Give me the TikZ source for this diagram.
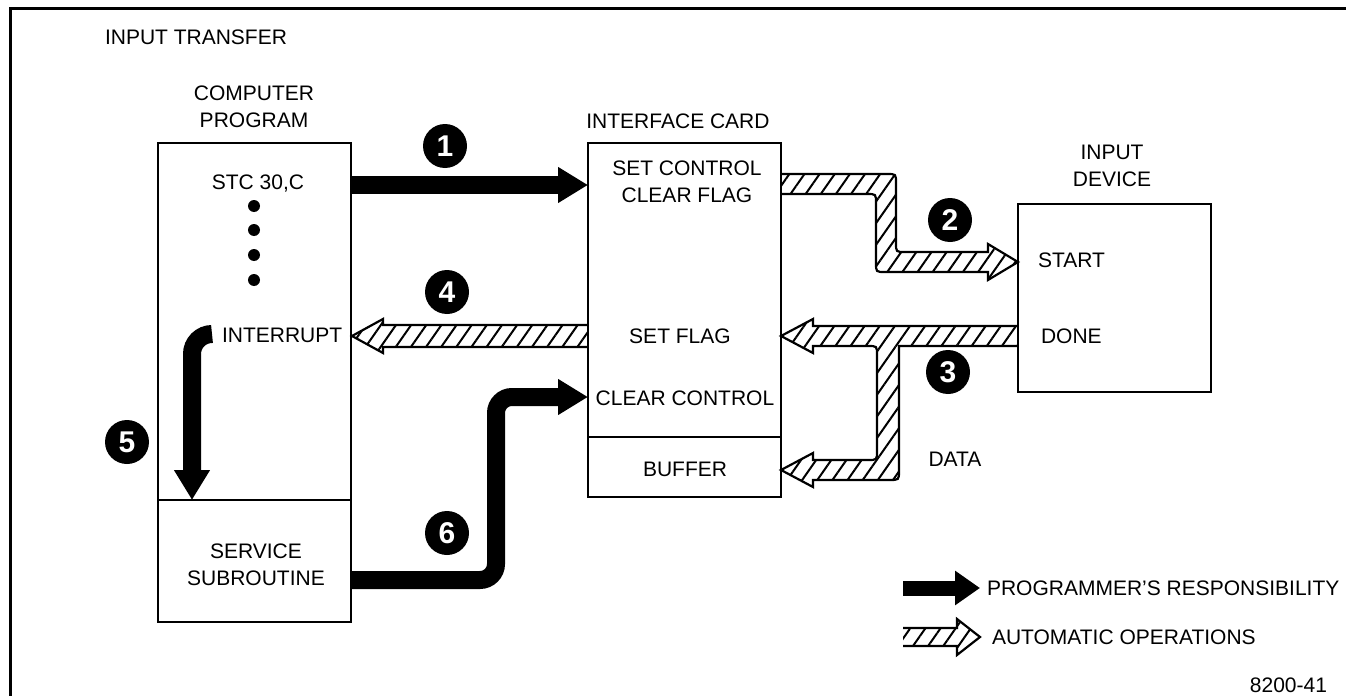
\documentclass[tikz,border=0pt]{standalone}
\usepackage{fontspec}
\setmainfont{Liberation Sans}
\usetikzlibrary{arrows.meta,patterns.meta}
\newcommand{\hatcharrow}[1]{%
  \fill[pattern={Lines[angle=55,distance=6.2pt,line width=1pt]}] #1 -- cycle;
  \draw[line width=1.1pt, line join=miter] #1;}
\begin{document}
\begin{tikzpicture}[x=0.5pt,y=-0.5pt,
  every node/.style={font=\fontsize{10.5}{12.6}\selectfont, inner sep=0pt, outer sep=0pt},
  box/.style={draw, line width=1.1pt, minimum width=96.5pt},
  lbl/.style={align=center},
  num/.style={circle, fill=black, minimum size=22pt, text=white, font=\fontsize{15}{16}\bfseries},
  blk/.style={line width=9pt, rounded corners=8pt, -{Triangle[length=15pt,width=17pt]}},
  dot/.style={circle, fill=black, minimum size=6pt}
]
\useasboundingbox (0,0) rectangle (1346,696);
\fill[white] (0,0) rectangle (1346,696);
\draw[line width=1.5pt] (10,696) -- (10,8) -- (1346,8);

% hatched arrows (automatic operations)
\hatcharrow{(781,174) -- (887,174) .. controls (896,174) .. (896,183) -- (896,243) .. controls (896,252) .. (905,252) -- (988,252) -- (988,244) -- (1018,262) -- (988,280) -- (988,272) -- (885,272) .. controls (876,272) .. (876,263) -- (876,203) .. controls (876,194) .. (867,194) -- (781,194)}
\hatcharrow{(588,325) -- (383,325) -- (383,319) -- (352,336) -- (383,353) -- (383,347) -- (588,347)}
\hatcharrow{(1018,326) -- (813,326) -- (813,319) -- (781,336) -- (813,353) -- (813,346) -- (868,346) .. controls (877,346) .. (877,355) -- (877,451) .. controls (877,460) .. (868,460) -- (813,460) -- (813,453) -- (781,470) -- (813,487) -- (813,480) -- (889,480) .. controls (899,480) .. (899,471) -- (899,346) -- (1018,346)}
\hatcharrow{(903,628) -- (957,628) -- (957,619) -- (980,637) -- (957,655) -- (957,646) -- (903,646)}

% boxes
\node[box, minimum height=178.5pt] (cp) at (254.5,321.5) {};
\node[box, minimum height=61pt] (ss) at (254.5,561) {};
\node[box, minimum height=147pt] (ic) at (684.5,290) {};
\node[box, minimum height=30pt] (buf) at (684.5,467) {};
\node[box, minimum height=94pt] (dev) at (1114.5,298) {};

% texts
\node[anchor=west] (title) at (105,37) {INPUT TRANSFER};
\node[lbl] (cpl) at (254,107) {COMPUTER\\[1pt]PROGRAM};
\node (stc) at (258,184) {STC 30,C};
\foreach \y/\n in {206/d1,230/d2,255/d3,280/d4} \node[dot] (\n) at (254,\y) {};
\node[anchor=west] (intr) at (222,335) {INTERRUPT};
\node[lbl] (ssl) at (256,565) {SERVICE\\[1pt]SUBROUTINE};
\node (icl) at (678,121) {INTERFACE CARD};
\node[lbl] (scl) at (687,182) {SET CONTROL\\[1pt]CLEAR FLAG};
\node (sf) at (680,336) {SET FLAG};
\node (cc) at (685,398) {CLEAR CONTROL};
\node (bufl) at (685,469) {BUFFER};
\node[lbl] (devl) at (1112,166) {INPUT\\[1pt]DEVICE};
\node[anchor=west] (start) at (1038,260) {START};
\node[anchor=west] (done) at (1041,336) {DONE};
\node (data) at (955,459) {DATA};
\node[anchor=west] (lg1) at (987,588) {PROGRAMMER'S RESPONSIBILITY};
\node[anchor=west] (lg2) at (992,637) {AUTOMATIC OPERATIONS};
\node[anchor=east] (fig) at (1327,685) {8200-41};

% numbered markers
\node[num] (n1) at (445,146) {1};
\node[num] (n2) at (950,220) {2};
\node[num] (n3) at (948,372) {3};
\node[num] (n4) at (447,292) {4};
\node[num] (n5) at (127,442) {5};
\node[num] (n6) at (447,533) {6};

% black arrows (programmer's responsibility)
\coordinate (i5) at (212,334);
\draw[blk] (cp.east |- 0,185) -- (ic.west |- 0,185);
\draw[blk, rounded corners=10pt] (i5) -- (192,334) -- (ss.north -| 192,0);
\draw[blk] (ss.east |- 0,580) -- (496,580) -- (496,397) -- (ic.west |- 0,397);
\draw[line width=7.5pt, -{Triangle[length=12.5pt,width=16.5pt]}] (903,588) -- ([xshift=-3.5pt]lg1.west);
\end{tikzpicture}
\end{document}
